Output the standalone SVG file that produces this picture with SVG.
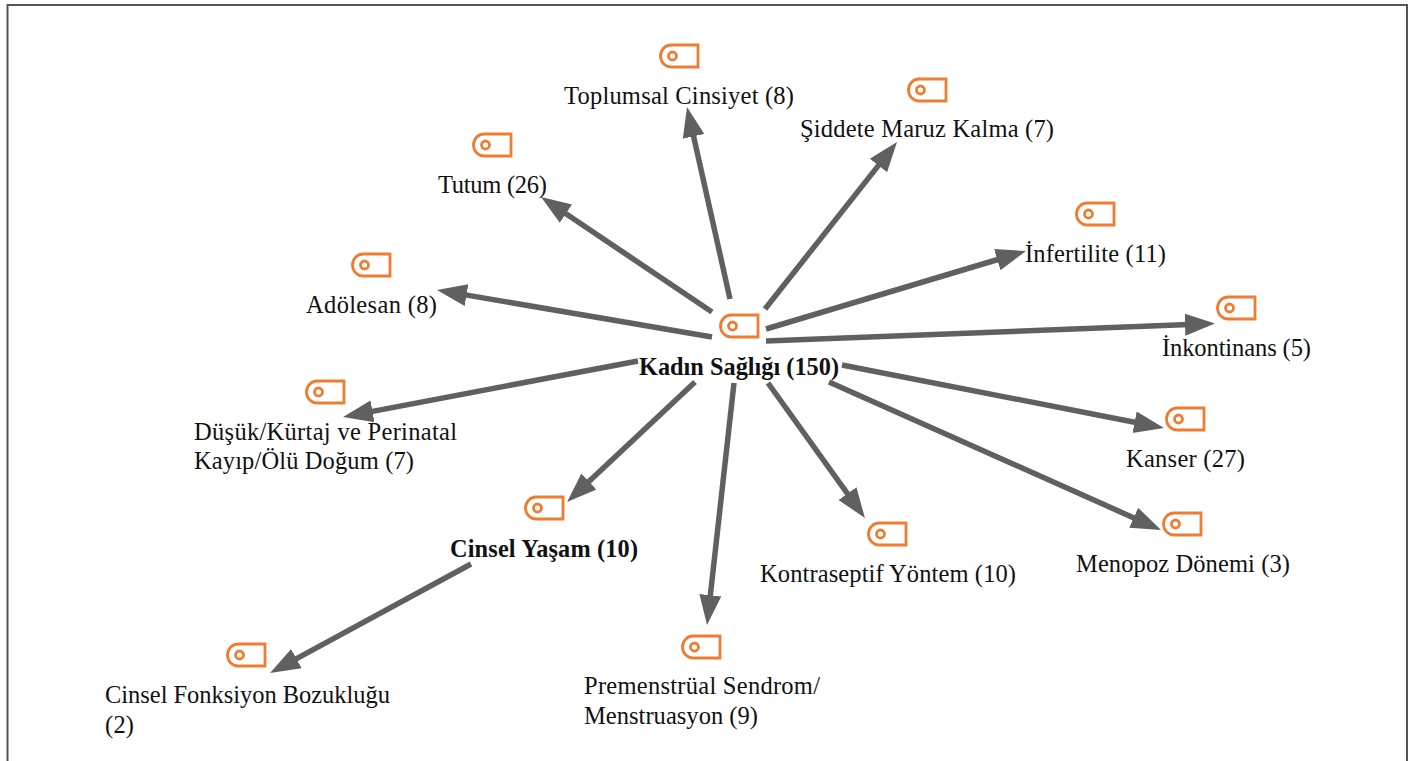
<svg xmlns="http://www.w3.org/2000/svg" width="1417" height="761" viewBox="0 0 1417 761">
<style>
.t{font-family:"Liberation Serif","Times New Roman",serif;font-size:24.500px;fill:#111}
.b{font-weight:bold;font-size:24.300px}
.e{stroke:#5f6060;stroke-width:5.500;fill:none;marker-end:url(#a)}
.i{fill:none;stroke:#ee7d31;stroke-width:2.800}
</style>
<defs>
<marker id="a" markerUnits="userSpaceOnUse" markerWidth="32" markerHeight="26" refX="4" refY="13" orient="auto"><path d="M0 2L30 13L0 24Z" fill="#5f6060"/></marker>
<g id="ic"><path class="i" d="M11 1H38V23H11A10.500 11 0 0 1 11 1Z"/><circle class="i" cx="12.500" cy="12" r="4"/></g>
</defs>
<rect width="1417" height="761" fill="#fff"/>
<path d="M7.500 761V5H1407V761" fill="none" stroke="#555" stroke-width="2"/>
<g id="connectors">
<line class="e" x1="730" y1="299" x2="692.700" y2="132.400"/>
<line class="e" x1="765" y1="309" x2="880.900" y2="162.400"/>
<line class="e" x1="712" y1="312" x2="562.600" y2="211.500"/>
<line class="e" x1="766" y1="329" x2="1001.100" y2="258.500"/>
<line class="e" x1="766" y1="341" x2="1189" y2="324.500"/>
<line class="e" x1="712" y1="337" x2="462.600" y2="294.400"/>
<line class="e" x1="638" y1="361" x2="368.600" y2="412.100"/>
<line class="e" x1="842" y1="365" x2="1138.500" y2="423"/>
<line class="e" x1="829" y1="382" x2="1137.300" y2="519.400"/>
<line class="e" x1="768" y1="383" x2="849.800" y2="496.900"/>
<line class="e" x1="734" y1="383" x2="709.900" y2="599.200"/>
<line class="e" x1="695" y1="382" x2="586" y2="484.200"/>
<line class="e" x1="471" y1="564" x2="292.900" y2="660.600"/>
</g>
<g id="n-kadin"><use href="#ic" x="720" y="314"/><text class="t b" x="639" y="375" textLength="200">Kadın Sağlığı (150)</text></g>
<g id="n-toplumsal"><use href="#ic" x="660" y="44"/><text class="t" x="564" y="104" textLength="230">Toplumsal Cinsiyet (8)</text></g>
<g id="n-siddet"><use href="#ic" x="908" y="78"/><text class="t" x="800" y="137" textLength="254">Şiddete Maruz Kalma (7)</text></g>
<g id="n-tutum"><use href="#ic" x="473" y="133"/><text class="t" x="438" y="193" textLength="109">Tutum (26)</text></g>
<g id="n-infertilite"><use href="#ic" x="1076" y="202"/><text class="t" x="1025" y="262" textLength="141">İnfertilite (11)</text></g>
<g id="n-adolesan"><use href="#ic" x="352" y="253"/><text class="t" x="306" y="313" textLength="131">Adölesan (8)</text></g>
<g id="n-inkontinans"><use href="#ic" x="1217" y="296"/><text class="t" x="1162" y="356" textLength="149">İnkontinans (5)</text></g>
<g id="n-dusuk"><use href="#ic" x="306" y="380"/><text class="t" x="194" y="440" textLength="263">Düşük/Kürtaj ve Perinatal</text><text class="t" x="194" y="469" textLength="220">Kayıp/Ölü Doğum (7)</text></g>
<g id="n-kanser"><use href="#ic" x="1166" y="407"/><text class="t" x="1126" y="467" textLength="119">Kanser (27)</text></g>
<g id="n-menopoz"><use href="#ic" x="1163" y="512"/><text class="t" x="1076" y="572" textLength="214">Menopoz Dönemi (3)</text></g>
<g id="n-kontraseptif"><use href="#ic" x="868" y="522"/><text class="t" x="760" y="582" textLength="256">Kontraseptif Yöntem (10)</text></g>
<g id="n-cinsel"><use href="#ic" x="525" y="496"/><text class="t b" x="450" y="557" textLength="188">Cinsel Yaşam (10)</text></g>
<g id="n-premenstruel"><use href="#ic" x="682" y="635"/><text class="t" x="584" y="694" textLength="236">Premenstrüal Sendrom/</text><text class="t" x="584" y="724" textLength="174">Menstruasyon (9)</text></g>
<g id="n-fonksiyon"><use href="#ic" x="227" y="643"/><text class="t" x="105" y="703" textLength="285">Cinsel Fonksiyon Bozukluğu</text><text class="t" x="105" y="733" textLength="29">(2)</text></g>
</svg>
